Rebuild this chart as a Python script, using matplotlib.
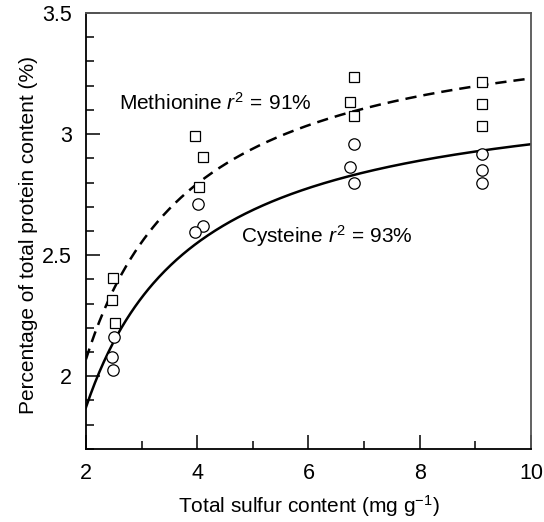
import numpy as np
import matplotlib
matplotlib.use("Agg")
import matplotlib.pyplot as plt
from matplotlib.ticker import MultipleLocator

plt.rcParams["font.family"] = ["Liberation Sans", "DejaVu Sans"]
plt.rcParams["mathtext.fontset"] = "custom"
plt.rcParams["mathtext.rm"] = "Liberation Sans"
plt.rcParams["mathtext.it"] = "Liberation Sans:italic"

# measured sulfur content (mg/g) and amino acid share of total protein (%)
met_x = [2.49, 2.47, 2.52, 3.96, 4.10, 4.03, 6.82, 6.75, 6.82, 9.12, 9.12, 9.12]
met_y = [2.407, 2.317, 2.218, 2.992, 2.905, 2.782, 3.235, 3.132, 3.074,
         3.214, 3.123, 3.033]
cys_x = [2.51, 2.47, 2.49, 4.01, 4.10, 3.96, 6.82, 6.75, 6.82, 9.12, 9.12, 9.12]
cys_y = [2.162, 2.081, 2.026, 2.712, 2.621, 2.597, 2.959, 2.864, 2.798,
         2.918, 2.852, 2.798]

# fitted curves y = a - b / x
met_fit = (3.52, 2.90)
cys_fit = (3.23, 2.717)

fig = plt.figure(figsize=(5.44, 5.22), dpi=100)
ax = fig.add_axes([0.158, 0.140, 0.818, 0.835])

xs = np.linspace(2, 10, 300)
ax.plot(xs, met_fit[0] - met_fit[1] / xs, color="black", lw=1.8,
        dashes=(4.5, 2.8))
ax.plot(xs, cys_fit[0] - cys_fit[1] / xs, color="black", lw=1.8)

ax.plot(met_x, met_y, ls="none", marker="s", ms=7.5, mfc="white",
        mec="black", mew=0.9)
ax.plot(cys_x, cys_y, ls="none", marker="o", ms=8.2, mfc="white",
        mec="black", mew=0.9)

ax.text(2.59, 3.13, r"Methionine $r^2\,=\,91\%$", fontsize=15, va="center")
ax.text(4.79, 2.58, r"Cysteine $r^2\,=\,93\%$", fontsize=15, va="center")

ax.set_xlim(2, 10)
ax.set_ylim(1.7, 3.5)
ax.xaxis.set_minor_locator(MultipleLocator(1))
ax.yaxis.set_minor_locator(MultipleLocator(0.1))
ax.set_yticks([2, 2.5, 3, 3.5], ["2", "2.5", "3", "3.5"])
ax.set_xticks([2, 4, 6, 8, 10], ["2", "4", "6", "8", "10"])

ax.tick_params(which="both", direction="in", top=False, right=False,
               width=1.1, labelsize=15.5, pad=10)
ax.tick_params(which="major", length=10)
ax.tick_params(which="minor", length=6)

for side in ("left", "bottom"):
    ax.spines[side].set_linewidth(1.3)
    ax.spines[side].set_color("black")
for side in ("top", "right"):
    ax.spines[side].set_linewidth(1.3)
    ax.spines[side].set_color("#555555")

ax.set_xlabel("Total sulfur content (mg g$^{-1}$)", fontsize=15, labelpad=7)
ax.set_ylabel("Percentage of total protein content (%)", fontsize=15)
ax.yaxis.set_label_coords(-0.108, 0.49)

fig.savefig("out.png", dpi=100)
